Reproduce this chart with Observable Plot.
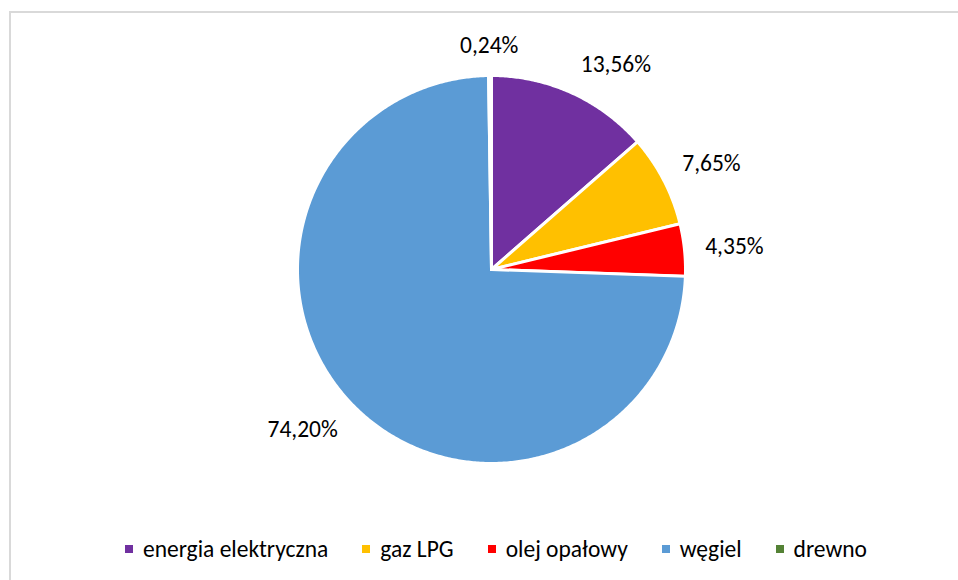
<!DOCTYPE html>
<html><head><meta charset="utf-8">
<script src="https://cdn.jsdelivr.net/npm/d3@7"></script>
<script src="https://cdn.jsdelivr.net/npm/@observablehq/plot@0.6"></script>
<style>
html,body{margin:0;padding:0;background:#fff;}
#chart{position:relative;width:958px;height:580px;overflow:hidden;font-family:Calibri,Carlito,Lato,sans-serif;}
#frame{position:absolute;left:9px;top:11px;width:1000px;height:600px;border-top:2px solid #d9d9d9;border-left:2px solid #d9d9d9;box-sizing:border-box;}
#plot{position:absolute;left:0;top:0;}
#legend{position:absolute;left:9px;width:974px;top:536px;height:26px;display:flex;justify-content:center;align-items:center;gap:34px;font-size:23.5px;color:#000;}
.item{display:flex;align-items:center;white-space:nowrap;}
.sw{width:8px;height:8px;margin-right:10px;}
</style></head><body>
<div id="chart"><div id="frame"></div><div id="plot"></div><div id="legend"></div></div>
<script>
const categories = ["energia elektryczna", "gaz LPG", "olej opałowy", "węgiel", "drewno"];
const values = [13.56, 7.65, 4.35, 74.20, 0.24];
const labels = ["13,56%", "7,65%", "4,35%", "74,20%", "0,24%"];
const colors = ["#7030A0", "#FFC000", "#FF0000", "#5B9BD5", "#548235"];

const R = 194;          // pie radius in px
const CX = 491, CY = 269; // pie centre in px

const arcs = d3.pie().sort(null).value(d => d)(values);
const points = [];
arcs.forEach((a, i) => {
  points.push({cat: categories[i], x: 0, y: 0});
  const n = Math.max(2, Math.ceil((a.endAngle - a.startAngle) / (Math.PI / 360)));
  for (let k = 0; k <= n; k++) {
    const t = a.startAngle + (a.endAngle - a.startAngle) * k / n;
    points.push({cat: categories[i], x: Math.sin(t), y: Math.cos(t)});
  }
});

const labelData = arcs.map((a, i) => {
  const m = (a.startAngle + a.endAngle) / 2;
  const ux = Math.sin(m), uy = Math.cos(m);
  const d = 20, hw = labels[i].length * 6.0, hh = 10;
  const sx = Math.max(-1, Math.min(1, ux * 3)), sy = Math.max(-1, Math.min(1, uy * 1.6));
  return {label: labels[i], x: ux + (ux * d + hw * sx) / R, y: uy + (uy * d + hh * sy) / R};
});

const FONT = "Calibri, Carlito, Lato, sans-serif";
const chart = Plot.plot({
  width: 958, height: 530, margin: 0,
  x: {domain: [-1, 1], range: [CX - R, CX + R], axis: null},
  y: {domain: [-1, 1], range: [CY + R, CY - R], axis: null},
  color: {domain: categories, range: colors},
  style: {fontFamily: FONT, background: "transparent", overflow: "visible"},
  marks: [
    Plot.line(points, {x: "x", y: "y", z: "cat", fill: "cat", stroke: "white", strokeWidth: 3, curve: "linear-closed", strokeLinejoin: "miter", strokeMiterlimit: 4}),
    Plot.text(labelData, {x: "x", y: "y", text: "label", fontSize: 23.5, fill: "#000"})
  ]
});
document.getElementById("plot").appendChild(chart);

const legend = document.getElementById("legend");
categories.forEach((c, i) => {
  const item = document.createElement("div");
  item.className = "item";
  const sw = document.createElement("span");
  sw.className = "sw";
  sw.style.background = colors[i];
  const tx = document.createElement("span");
  tx.textContent = c;
  item.appendChild(sw); item.appendChild(tx);
  legend.appendChild(item);
});
</script>
</body></html>
